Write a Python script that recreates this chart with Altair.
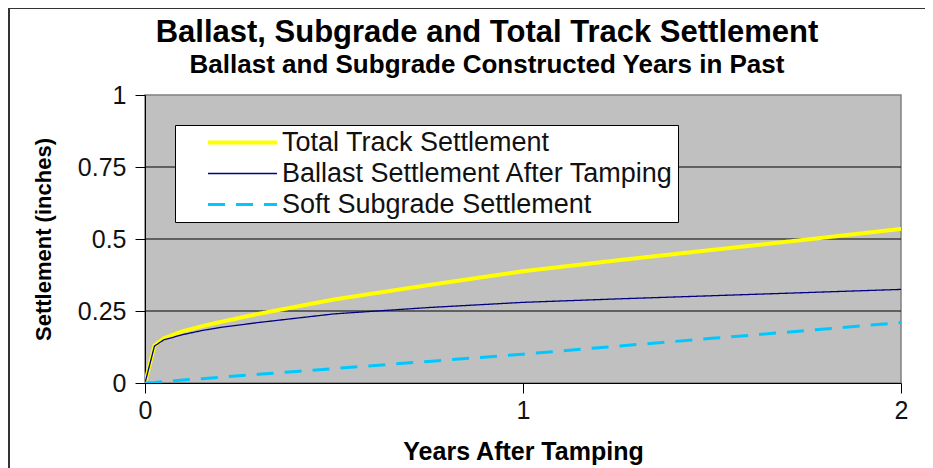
import altair as alt
import pandas as pd

years = [0, 0.025, 0.05, 0.1, 0.15, 0.2, 0.3, 0.4, 0.5, 0.75, 1.0, 1.25, 1.5, 1.75, 2.0]
total = [0, 0.13, 0.155, 0.18, 0.197, 0.212, 0.24, 0.265, 0.29, 0.34, 0.388, 0.426, 0.462, 0.498, 0.535]
ballast = [0, 0.128, 0.15, 0.168, 0.182, 0.193, 0.21, 0.225, 0.24, 0.262, 0.28, 0.292, 0.303, 0.314, 0.325]
subgrade = [0, 0.002, 0.005, 0.01, 0.015, 0.02, 0.03, 0.04, 0.05, 0.075, 0.1, 0.128, 0.155, 0.182, 0.21]

series = ["Total Track Settlement", "Ballast Settlement After Tamping", "Soft Subgrade Settlement"]
colors = ["#FFFF00", "#000080", "#00C8FF"]
dashes = [[1, 0], [1, 0], [17, 11]]
widths = [4, 1.3, 3]
x_ticks = [0, 1, 2]
y_ticks = [0, 0.25, 0.5, 0.75, 1]
grid_values = [0.25, 0.5, 0.75]

rows = []
for name, vals, w in zip(series, [total, ballast, subgrade], widths):
    for x, v in zip(years, vals):
        rows.append({"years": x, "value": v, "series": name, "w": w})
df = pd.DataFrame(rows)

FONT = "Liberation Sans"

width_expr = " : ".join(
    f"datum.value === '{s}' ? {w}" for s, w in zip(series[:-1], widths[:-1])
) + f" : {widths[-1]}"

leg = alt.Legend(
    title=None, orient="none", legendX=30, legendY=30,
    fillColor="white", strokeColor="black", padding=4,
    labelFontSize=27, labelFont=FONT, labelColor="#111111",
    symbolType="M1.35,0H7.35", symbolSize=529, labelOffset=76,
    rowPadding=3, labelLimit=800,
    symbolStrokeWidth=alt.ExprRef(width_expr),
)

y_scale = alt.Scale(domain=[0, 1], nice=False)
y_axis = alt.Axis(values=y_ticks, format=".2~f", title="Settlement (inches)", grid=False,
                  labelFontSize=25, labelFont=FONT, labelColor="#111111",
                  labelPadding=9, tickSize=10, tickColor="black", domainColor="black",
                  labelFlush=False,
                  titleFontSize=22, titleFont=FONT, titleFontWeight="bold", titleColor="black",
                  titleX=-95, titleY=144, titleBaseline="alphabetic", titleAngle=270)

x_enc = alt.X("years:Q", scale=alt.Scale(domain=[0, 2], nice=False),
              axis=alt.Axis(values=x_ticks, format="~g", title="Years After Tamping", grid=False,
                            labelFontSize=25, labelFont=FONT, labelColor="#111111",
                            labelPadding=5, tickSize=10, tickColor="black", domainColor="black",
                            labelFlush=False,
                            titleFontSize=25, titleFont=FONT, titleFontWeight="bold", titleColor="black",
                            titleY=76, titleBaseline="alphabetic"))

grid = alt.Chart(pd.DataFrame({"g": grid_values})).mark_rule(color="black", strokeWidth=1).encode(
    y=alt.Y("g:Q", scale=y_scale, axis=y_axis)
)

lines = alt.Chart(df).mark_line(clip=True).encode(
    x=x_enc,
    y=alt.Y("value:Q", scale=y_scale, axis=y_axis),
    color=alt.Color("series:N", scale=alt.Scale(domain=series, range=colors), legend=leg),
    strokeDash=alt.StrokeDash("series:N", scale=alt.Scale(domain=series, range=dashes), legend=leg),
    strokeWidth=alt.StrokeWidth("w:Q", scale=None, legend=None),
    order="years:Q",
)

one = pd.DataFrame({"a": [0]})
frame_v = alt.Chart(one).mark_rule(color="#333333", strokeWidth=2).encode(
    x=alt.value(-136), y=alt.value(-87), y2=alt.value(420))
frame_h = alt.Chart(one).mark_rule(color="#333333", strokeWidth=2).encode(
    x=alt.value(-136), x2=alt.value(820), y=alt.value(-87))

chart = alt.layer(grid, lines, frame_v, frame_h).resolve_scale(y="shared").properties(
    width=756, height=288,
    autosize=alt.AutoSizeParams(type="none"),
    padding={"left": 137, "top": 87, "right": 24, "bottom": 85},
    background="white",
    title=alt.TitleParams(
        text="Ballast, Subgrade and Total Track Settlement",
        subtitle="Ballast and Subgrade Constructed Years in Past",
        anchor="middle", frame="group", dx=-36, dy=72, offset=0,
        font=FONT, fontSize=31, fontWeight="bold", color="black",
        subtitleFont=FONT, subtitleFontSize=26, subtitleFontWeight="bold", subtitleColor="black",
        subtitlePadding=3,
    ),
).configure_view(fill="#C0C0C0", stroke="#808080", strokeWidth=1.5)

chart.save("out.html", embed_options={"renderer": "svg", "actions": False})
